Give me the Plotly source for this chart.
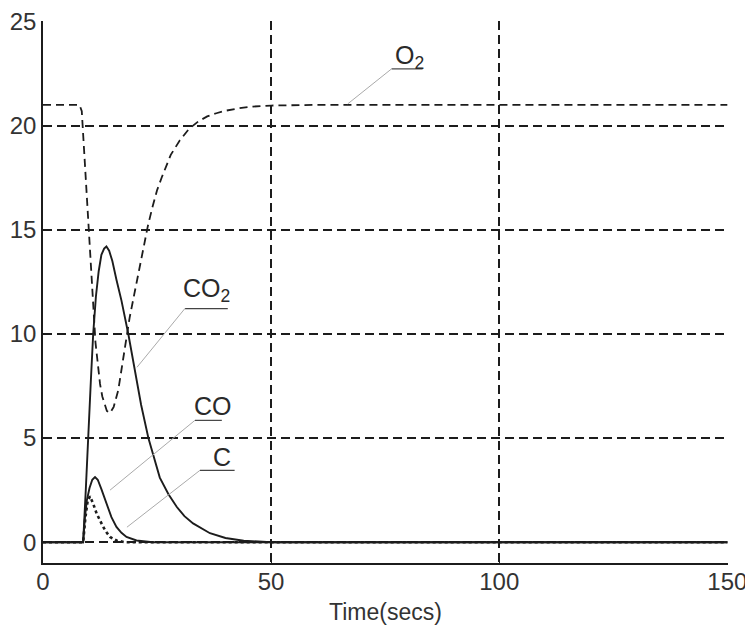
import plotly.graph_objects as go

# ---- data ----
t_o2 = [0, 8, 8.5, 9, 9.5, 10, 10.5, 11, 11.5, 12, 12.5, 13, 13.5, 14, 14.7, 15.5, 16.5, 17.5, 18.3, 19, 20, 21, 22, 23,
        24, 25, 26, 28, 30, 32, 34, 36, 38, 40, 43, 46, 50, 55, 60, 70, 100, 150]
o2 = [21, 21, 20.7, 18.8, 17.0, 15.5, 13.6, 11.2, 9.6, 8.6, 7.6, 7.0, 6.6, 6.3, 6.2, 6.5, 7.3, 8.8, 10.0, 10.8, 11.9, 13.0,
      14.2, 15.2, 16.1, 16.9, 17.5, 18.6, 19.3, 19.85, 20.2, 20.45, 20.6, 20.72, 20.84, 20.92, 20.97, 21.0, 21.0, 21.0, 21.0, 21.0]

t_co2 = [0, 8.8, 9.4, 9.9, 10.5, 11, 11.6, 12.2, 12.8, 13.4, 13.9, 14.5, 15.2, 16.1, 17.2, 18.7, 20, 21.5, 23.1, 25.6,
         27.5, 29.3, 31, 32.9, 36.6, 40, 44, 50, 150]
co2 = [0, 0, 2.6, 5.2, 7.8, 10.0, 11.8, 13.0, 13.8, 14.1, 14.2, 14.0, 13.5, 12.6, 11.6, 10.0, 8.4, 6.6, 5.0, 3.1,
       2.3, 1.7, 1.25, 0.9, 0.43, 0.2, 0.07, 0.0, 0.0]

t_co = [0, 8.8, 9.2, 9.6, 10.2, 10.8, 11.4, 12.0, 12.8, 13.9, 15.0, 16.1, 17.2, 18.3, 20.5, 24, 150]
co = [0, 0, 1.2, 2.0, 2.6, 3.0, 3.13, 3.0, 2.55, 1.87, 1.2, 0.73, 0.45, 0.25, 0.08, 0.0, 0.0]

t_c = [0, 8.8, 9.3, 9.8, 10.3, 11.0, 11.75, 12.5, 13.2, 14.0, 14.7, 16.1, 18, 150]
c = [0, 0, 1.2, 2.0, 2.2, 1.85, 1.38, 1.0, 0.73, 0.45, 0.25, 0.08, 0.0, 0.0]

x_ticks = [0, 50, 100, 150]
y_ticks = [0, 5, 10, 15, 20, 25]

# labels: (text, text x, text y, underline x0, underline x1, underline y, leader target x, target y)
labels = [
    ("O<sub>2</sub>", 80.4, 23.3, 76.4, 83.2, 22.73, 66.8, 21.05),
    ("CO<sub>2</sub>", 35.9, 12.1, 31.1, 40.5, 11.22, 20.6, 8.4),
    ("CO", 37.2, 6.55, 33.3, 39.2, 5.85, 14.7, 2.5),
    ("C", 39.2, 4.1, 34.4, 42.0, 3.45, 18.4, 0.72),
]

INK = "#1c1c1c"
FONT = "Liberation Sans, Arial, sans-serif"

fig = go.Figure()
fig.add_trace(go.Scatter(x=t_o2, y=o2, mode="lines", name="O2",
                         line=dict(color=INK, width=1.8, dash="8px,5px")))
fig.add_trace(go.Scatter(x=t_co2, y=co2, mode="lines", name="CO2",
                         line=dict(color=INK, width=1.9)))
fig.add_trace(go.Scatter(x=t_co, y=co, mode="lines", name="CO",
                         line=dict(color=INK, width=1.9)))
fig.add_trace(go.Scatter(x=t_c, y=c, mode="lines", name="C",
                         line=dict(color=INK, width=2.6, dash="dot")))

for txt, tx, ty, ux0, ux1, uy, px, py in labels:
    fig.add_annotation(x=tx, y=ty, text=txt, showarrow=False, xref="x", yref="y",
                       font=dict(family=FONT, size=25, color="#2a2a2a"), yanchor="middle")
    fig.add_shape(type="line", x0=ux0, x1=ux1, y0=uy, y1=uy, xref="x", yref="y",
                  line=dict(color="#444", width=1.2))
    fig.add_shape(type="line", x0=ux0, x1=px, y0=uy, y1=py, xref="x", yref="y",
                  line=dict(color="#aaaaaa", width=1))

# page body has an 8px default margin, so the figure is offset by 8px
fig.update_layout(
    width=745, height=619,
    margin=dict(l=35, r=25, t=13, b=64),
    paper_bgcolor="white", plot_bgcolor="white",
    showlegend=False,
    font=dict(family=FONT, color="#333"),
)
fig.update_xaxes(range=[0, 150.15], tickvals=x_ticks, showgrid=True, gridcolor=INK, griddash="9px,5px", gridwidth=1.6,
                 zeroline=False, showline=True, linecolor=INK, linewidth=1.6, ticks="inside", ticklen=5,
                 tickcolor=INK, tickfont=dict(size=24, family=FONT, color="#333"), automargin=False,
                 ticklabelstandoff=-4,
                 title=dict(text="Time(secs)", font=dict(size=23, family=FONT, color="#333"), standoff=10))
fig.update_yaxes(range=[-1, 25.03], tickvals=y_ticks, showgrid=True, gridcolor=INK, griddash="9px,5px", gridwidth=1.6,
                 zeroline=False, showline=True, linecolor=INK, linewidth=1.6, ticks="inside", ticklen=5,
                 tickcolor=INK, tickfont=dict(size=24, family=FONT, color="#333"), automargin=False)

fig.write_html("out.html")
